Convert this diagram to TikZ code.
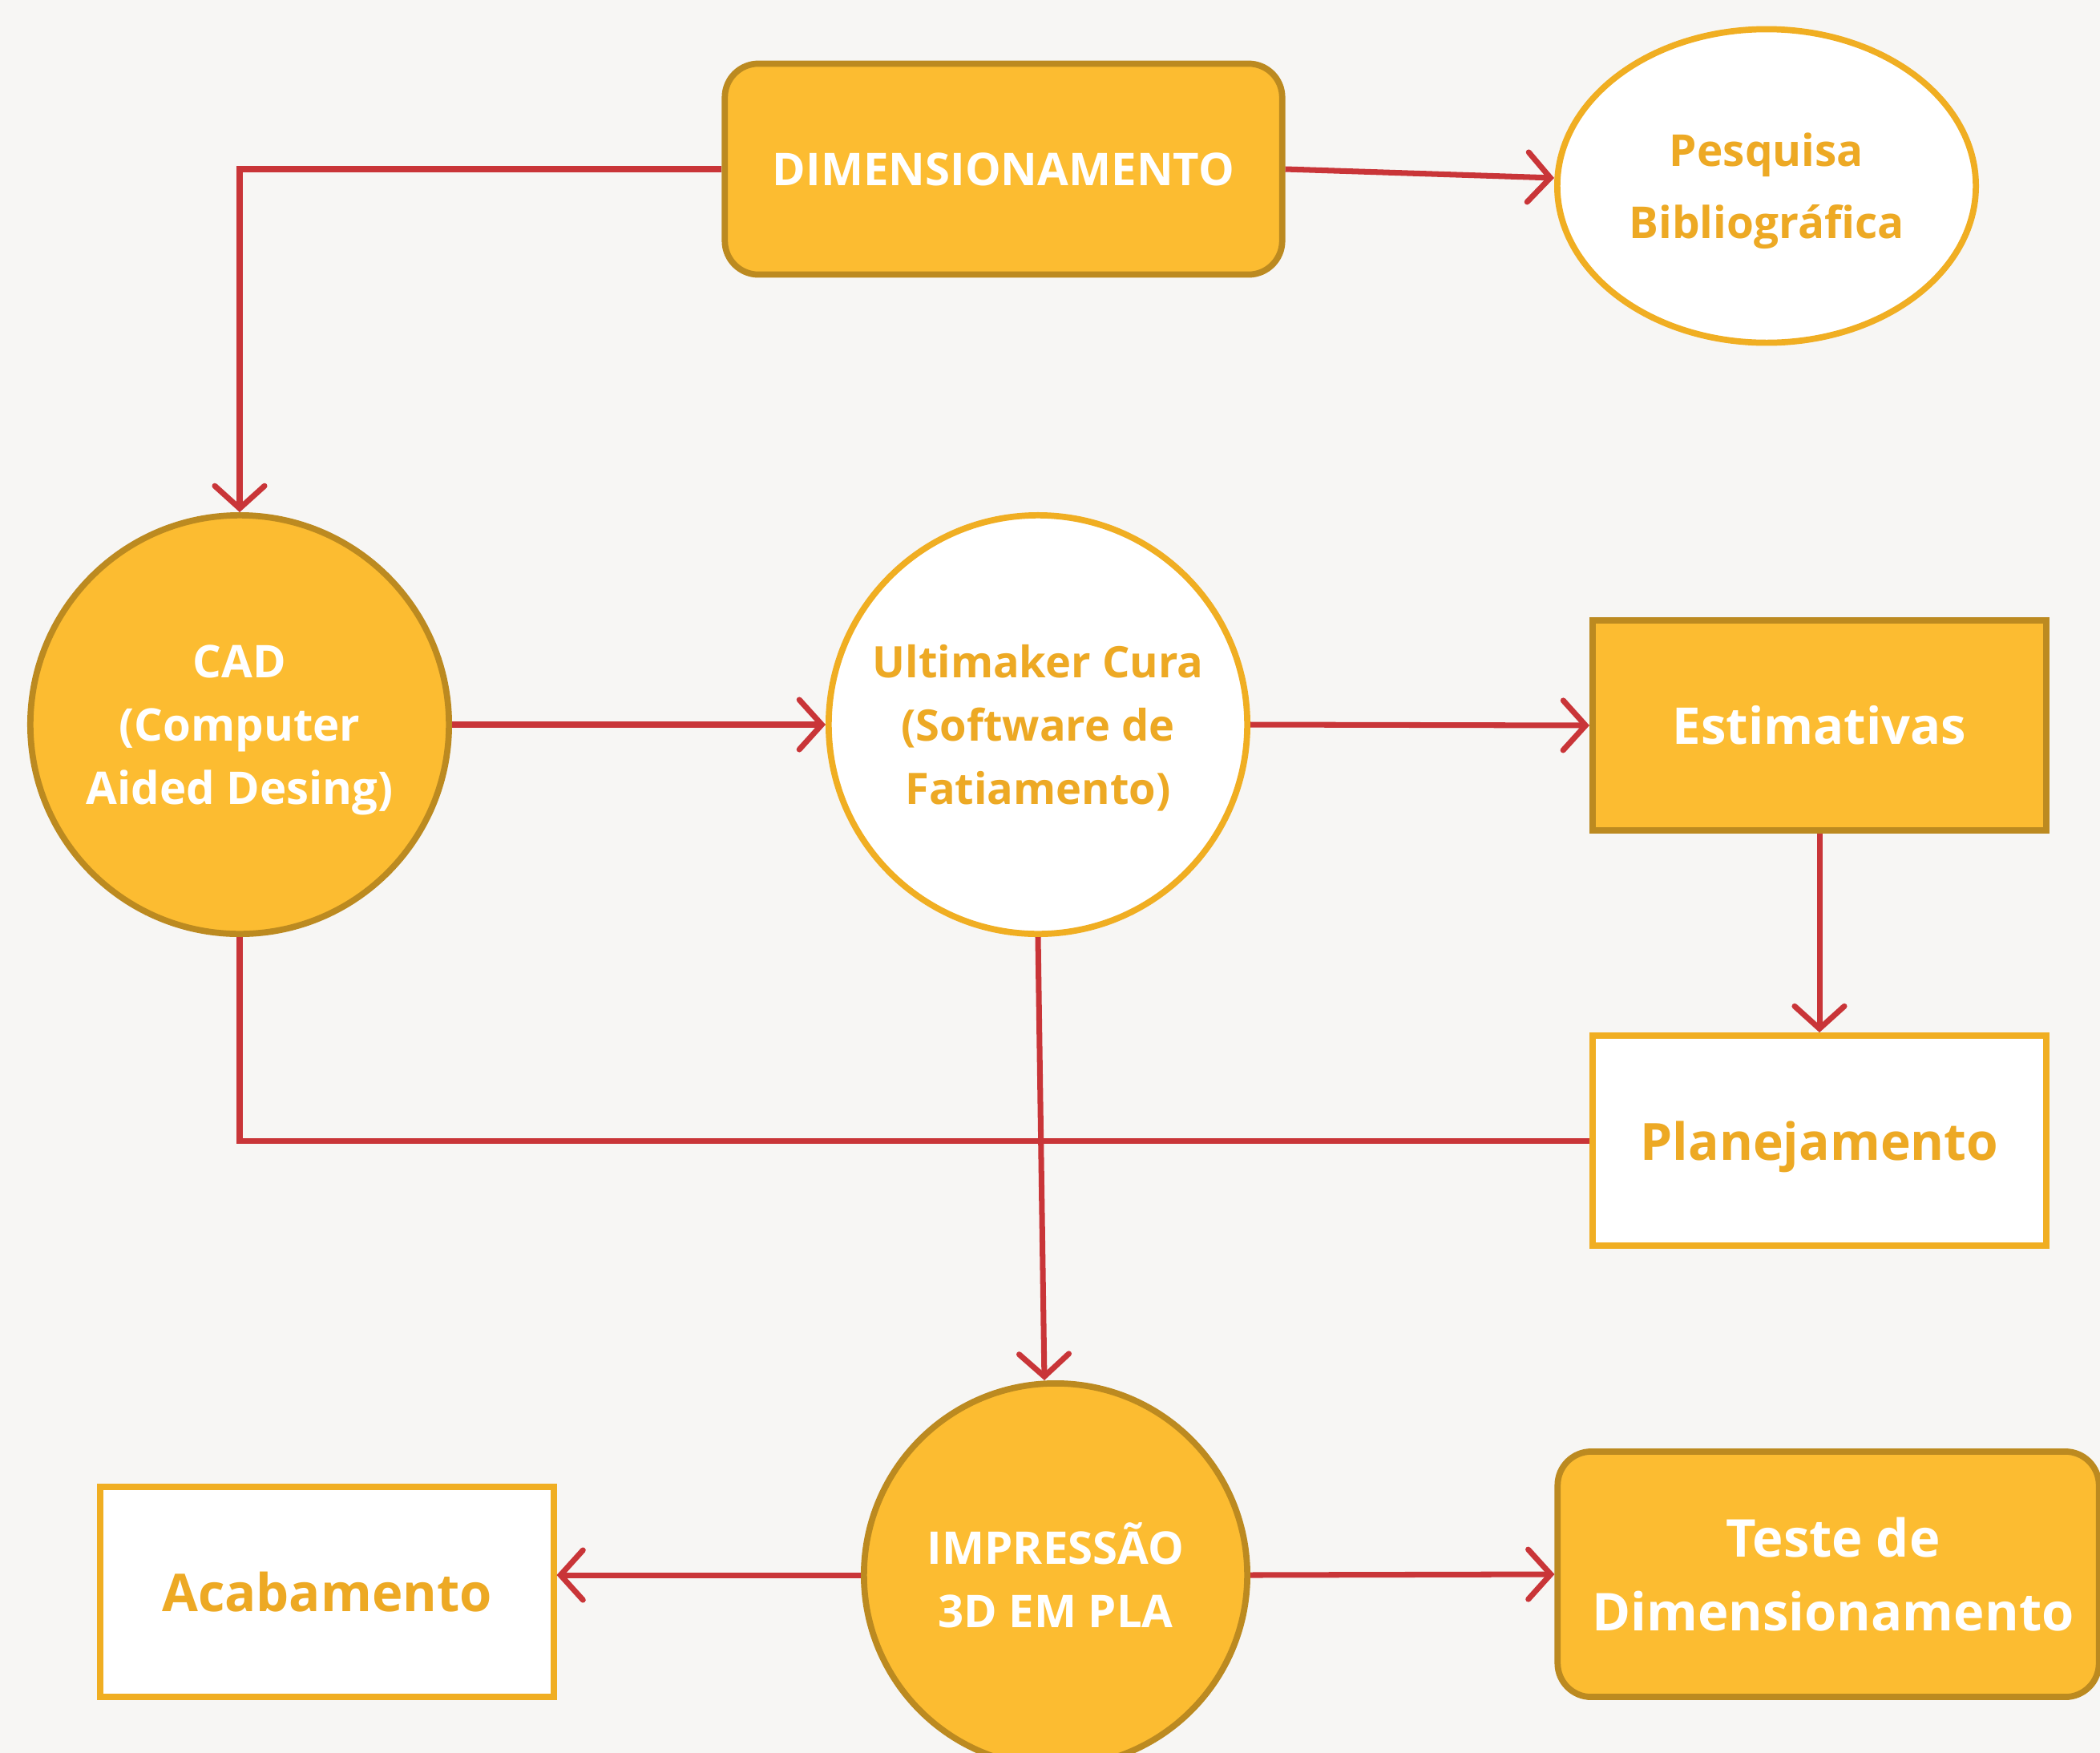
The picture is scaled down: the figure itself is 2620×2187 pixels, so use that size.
\documentclass[tikz,border=0pt]{standalone}
\usepackage{fontspec}
\setmainfont{Open Sans}
\usetikzlibrary{arrows.meta,shapes.geometric}
\definecolor{bgc}{HTML}{F7F6F4}
\definecolor{fillc}{HTML}{FCBC31}
\definecolor{darkc}{HTML}{BC8A20}
\definecolor{lightc}{HTML}{F0AE22}
\definecolor{txtc}{HTML}{EDA924}
\definecolor{redc}{HTML}{C93538}
\tikzset{
  filled/.style={fill=fillc, draw=darkc, line width=2.2pt, text=white, align=center, inner sep=0pt},
  hollow/.style={fill=white, draw=lightc, line width=2.2pt, text=txtc, align=center, inner sep=0pt},
  conn/.style={draw=redc, line width=2pt, -{Straight Barb[length=0.28cm,width=0.62cm,line cap=round]}},
  plainconn/.style={draw=redc, line width=2pt},
  fs/.style 2 args={font={\bfseries\fontsize{#1}{#2}\selectfont}},
}
\begin{document}
\begin{tikzpicture}[x=0.01cm,y=-0.01cm]
\fill[bgc] (0,0) rectangle (2620,2187);
\clip (0,0) rectangle (2620,2187);
\useasboundingbox (0,0) rectangle (2620,2187);

\node[filled, rounded corners=0.42cm, minimum width=6.95cm, minimum height=2.63cm, fs={16}{22}] (dim) at (1252,211) {DIMENSIONAMENTO};
\node[hollow, ellipse, minimum width=5.22cm, minimum height=3.91cm, fs={15.6}{25}, text depth=0pt] (pesq) at (2204,232) {Pesquisa\\[0.6pt]Bibliográfica};
\node[filled, circle, minimum size=5.22cm, fs={16}{22.5}, text depth=0pt] (cad) at (299,904) {CAD\\(Computer\\Aided Desing)};
\node[hollow, circle, minimum size=5.22cm, fs={15.4}{22.5}, text depth=0pt] (ult) at (1295,904) {Ultimaker Cura\\(Software de\\Fatiamento)};
\node[filled, rectangle, minimum width=5.66cm, minimum height=2.62cm, fs={18}{24}] (est) at (2270,905) {Estimativas};
\node[hollow, rectangle, minimum width=5.66cm, minimum height=2.62cm, fs={18.2}{24}, text depth=0pt] (plan) at (2270,1423) {Planejamento};
\node[filled, circle, minimum size=4.78cm, fs={16}{22.5}] (imp) at (1317,1965) {IMPRESSÃO\\3D EM PLA};
\node[hollow, rectangle, minimum width=5.65cm, minimum height=2.62cm, fs={18.5}{24}] (acab) at (408,1986) {Acabamento};
\node[filled, rounded corners=0.42cm, minimum width=6.75cm, minimum height=3.06cm, fs={18.5}{26}] (teste) at (2281,1964) {\hspace*{0.12cm}Teste de\\\hspace*{0.12cm}Dimensionamento};

\draw[conn] (dim.east) -- ([yshift=0.1cm]pesq.west);
\draw[conn] (dim.west) -| (cad.north);
\draw[conn] (cad.east) -- (ult.west);
\draw[conn] (ult.east) -- (est.west);
\draw[conn] (est.south) -- (plan.north);
\draw[plainconn] (cad.south) |- (plan.west);
\draw[conn] (ult.south) -- ([xshift=-0.14cm]imp.north);
\draw[conn] (imp.west) -- (imp.west -| acab.east);
\draw[conn] (imp.east) -- (teste.west);
\end{tikzpicture}
\end{document}
